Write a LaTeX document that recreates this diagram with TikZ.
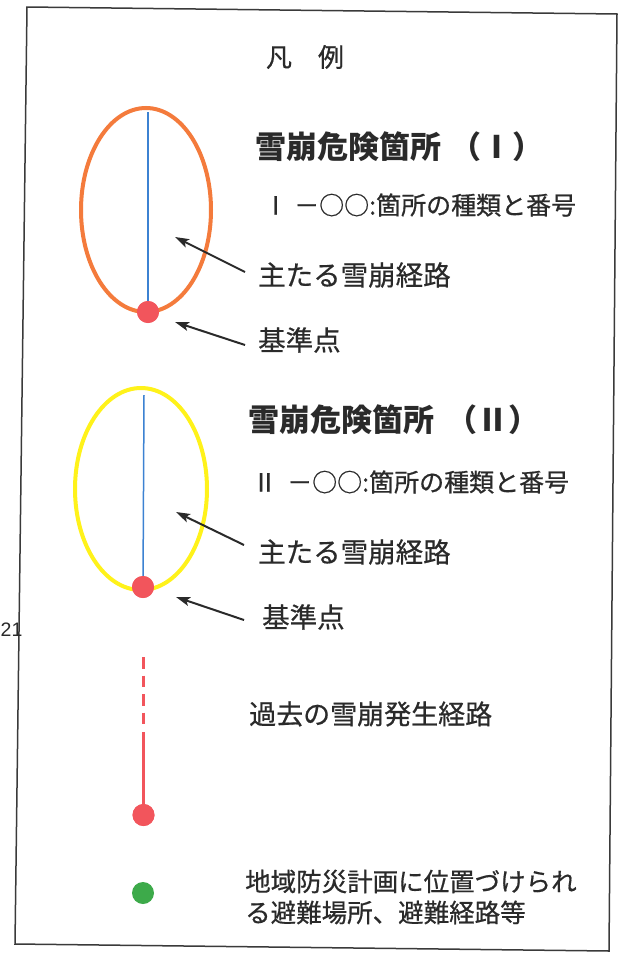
\documentclass[tikz,border=0pt]{standalone}
\usepackage{fontspec}
\setmainfont{Noto Sans CJK JP}
\newfontfamily\jpm{Noto Sans CJK JP}[BoldFont=Noto Sans CJK JP, BoldFeatures={FakeBold=0.6}]
\newfontfamily\numfont{Liberation Sans}
\usetikzlibrary{arrows.meta}
\definecolor{frameC}{HTML}{3A3A3A}
\definecolor{orangeC}{HTML}{F47B3C}
\definecolor{yellowC}{HTML}{FFF21A}
\definecolor{blueC}{HTML}{3C82D2}
\definecolor{redC}{HTML}{F2555C}
\definecolor{greenC}{HTML}{3DAA4A}
\definecolor{textC}{HTML}{2A2A2A}
\begin{document}
\begin{tikzpicture}[x=1pt,y=-1pt,
  lbl/.style={anchor=west, inner sep=0pt, text=textC, font=\jpm\bfseries\fontsize{27.5}{31}\selectfont},
  ttl/.style={lbl, font=\bfseries\fontsize{31}{35}\selectfont},
  sub/.style={lbl, font=\jpm\bfseries\fontsize{25}{29}\selectfont},
  ptr/.style={-{Stealth[length=14pt,width=9pt,inset=3pt]}, line width=2pt, draw=textC},
  dotR/.style={circle, fill=redC, minimum size=22pt, inner sep=0pt},
  dotG/.style={circle, fill=greenC, minimum size=22pt, inner sep=0pt},
  route/.style={draw=blueC, line width=1.5pt},
  ring/.style={line width=4pt}]
\useasboundingbox (0,0) rectangle (622,953);
\fill[white] (0,0) rectangle (622,953);
% frame
\draw[frameC, line width=1.5pt] (27,7) -- (617,14) -- (609,951) -- (15,944) -- cycle;
% page number artifact
\node[anchor=west, inner sep=0pt, text=textC, font=\numfont\fontsize{19.5}{22}\selectfont] (pg) at (0.5,630) {21};
% title
\node[lbl, anchor=center, font=\jpm\bfseries\fontsize{26}{30}\selectfont] (legend) at (305,57) {凡　例};
% --- section I
\draw[orangeC, ring] (146,210) ellipse [x radius=65, y radius=102];
\coordinate (b1top) at (148,112);
\node[dotR] (d1) at (148,312) {};
\draw[route] (b1top) -- (d1.center);
\node[dotR] at (148,312) {};
\node[ttl] (t1) at (255,147) {雪崩危険箇所\hspace{9pt}（Ⅰ）};
\node[sub] (s1) at (263,205) {Ⅰ\hspace{6pt}－○○:箇所の種類と番号};
\node[lbl] (r1) at (258,275) {主たる雪崩経路};
\node[lbl] (k1) at (258,340) {基準点};
\coordinate (a1t) at (245,272);
\coordinate (a1h) at (175,237);
\coordinate (a2t) at (245,345);
\coordinate (a2h) at (175,322);
\draw[ptr] (a1t) -- (a1h);
\draw[ptr] (a2t) -- (a2h);
% --- section II
\draw[yellowC, ring] (141,489) ellipse [x radius=66, y radius=101];
\coordinate (b2top) at (144,395);
\node[dotR] (d2) at (143,587) {};
\draw[route] (b2top) -- (d2.center);
\node[dotR] at (143,587) {};
\node[ttl] (t2) at (248,420) {雪崩危険箇所\hspace{12pt}（Ⅱ）};
\node[sub] (s2) at (252,482) {Ⅱ\hspace{10pt}－○○:箇所の種類と番号};
\node[lbl] (r2) at (258,552) {主たる雪崩経路};
\node[lbl] (k2) at (262,617) {基準点};
\coordinate (a3t) at (244,545);
\coordinate (a3h) at (176,512);
\coordinate (a4t) at (244,620);
\coordinate (a4h) at (176,597);
\draw[ptr] (a3t) -- (a3h);
\draw[ptr] (a4t) -- (a4h);
% --- past route
\coordinate (p0) at (143.5,657);
\coordinate (p1) at (143.5,724);
\coordinate (p2) at (143.5,732);
\node[dotR] (d3) at (143.5,815) {};
\draw[redC, line width=2.5pt, dash pattern=on 11.5pt off 7pt] (p0) -- (p1);
\draw[redC, line width=2.5pt] (p2) -- (d3.center);
\node[dotR] at (143.5,815) {};
\node[lbl, font=\jpm\bfseries\fontsize{27}{31}\selectfont] (past) at (249,714) {過去の雪崩発生経路};
% --- evacuation
\node[dotG] (g) at (143,893) {};
\node[lbl, align=left, font=\jpm\bfseries\fontsize{25.5}{31}\selectfont] (ev) at (245,897) {地域防災計画に位置づけられ\\る避難場所、避難経路等};
\end{tikzpicture}
\end{document}
